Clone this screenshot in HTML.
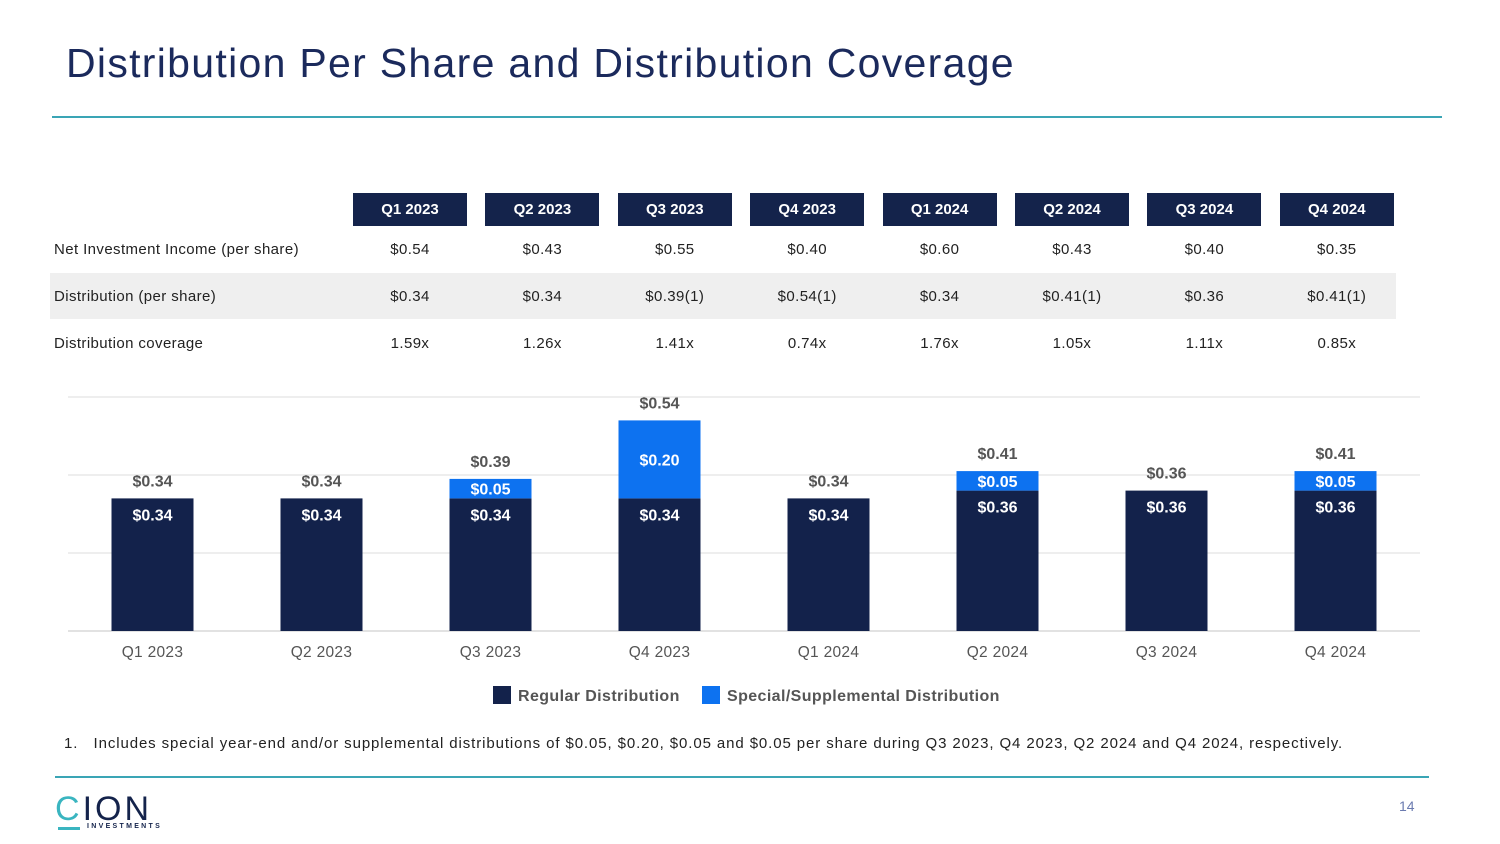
<!DOCTYPE html>
<html><head><meta charset="utf-8"><style>
body{margin:0;width:1500px;height:844px;background:#fff;font-family:"Liberation Sans",sans-serif;position:relative;overflow:hidden}
.a{position:absolute}
.title{left:66px;top:40px;font-size:41px;letter-spacing:1.3px;color:#1b2a5c;white-space:nowrap}
.hd{top:193px;width:114px;height:33px;background:#14234b;color:#fff;font-weight:bold;font-size:15px;line-height:33px;text-align:center}
.rl{left:54px;font-size:15px;color:#222;letter-spacing:0.4px}
.c{width:114px;text-align:center;font-size:15px;color:#222;letter-spacing:0.4px}
</style></head><body>
<div class="a title">Distribution Per Share and Distribution Coverage</div>
<div class="a" style="left:52px;top:116px;width:1390px;height:1.5px;background:#3aa5b5"></div>
<div class="a" style="left:50px;top:273px;width:1346px;height:46px;background:#efefef"></div>
<div id="tbl"></div>
<svg class="a" style="left:0;top:0" width="1500" height="844" id="chart"></svg>
<div class="a" style="left:64px;top:735px;font-size:15px;letter-spacing:0.9px;color:#222;white-space:nowrap">1.&nbsp;&nbsp;&nbsp;Includes special year-end and/or supplemental distributions of $0.05, $0.20, $0.05 and $0.05 per share during Q3 2023, Q4 2023, Q2 2024 and Q4 2024, respectively.</div>
<div class="a" style="left:55px;top:776px;width:1374px;height:1.5px;background:#3aa5b5"></div>
<div class="a" style="left:55px;top:790px;font-size:34px;color:#14234b;letter-spacing:3px;font-weight:300"><span style="color:#3ab5c0">C</span>ION</div>
<div class="a" style="left:58px;top:827px;width:22px;height:3px;background:#3ab5c0"></div>
<div class="a" style="left:87px;top:823px;font-size:7px;font-weight:bold;letter-spacing:2.3px;color:#14234b">INVESTMENTS</div>
<div class="a" style="left:1399px;top:798px;font-size:14px;color:#6b7bb0">14</div>
<script>
const categories=["Q1 2023","Q2 2023","Q3 2023","Q4 2023","Q1 2024","Q2 2024","Q3 2024","Q4 2024"];
const nii=["$0.54","$0.43","$0.55","$0.40","$0.60","$0.43","$0.40","$0.35"];
const distLabels=["$0.34","$0.34","$0.39(1)","$0.54(1)","$0.34","$0.41(1)","$0.36","$0.41(1)"];
const coverage=["1.59x","1.26x","1.41x","0.74x","1.76x","1.05x","1.11x","0.85x"];
const regular=[0.34,0.34,0.34,0.34,0.34,0.36,0.36,0.36];
const special=[0,0,0.05,0.20,0,0.05,0,0.05];
const gridTicks=[0,0.2,0.4,0.6];

const tbl=document.getElementById('tbl');
const rows=[["Net Investment Income (per share)",nii,248],["Distribution (per share)",distLabels,295],["Distribution coverage",coverage,342]];
categories.forEach((c,i)=>{const x=353+i*132.4;
 const h=document.createElement('div');h.className='a hd';h.style.left=x+'px';h.textContent=c;
 
 tbl.appendChild(h);
 rows.forEach((r,k)=>{const d=document.createElement('div');d.className='a c';d.style.left=x+'px';d.style.top=(r[2]-7)+'px';d.textContent=r[1][i];
 
 tbl.appendChild(d);});
});
rows.forEach(r=>{const d=document.createElement('div');d.className='a rl';d.style.top=(r[2]-7)+'px';d.textContent=r[0];
 
 tbl.appendChild(d);});

const svg=document.getElementById('chart'),NS='http://www.w3.org/2000/svg';
const L=68,R=1420,Y0=631,Y1=397,VMAX=0.6;
const y=v=>Y0-(v/VMAX)*(Y0-Y1);
const band=(R-L)/categories.length;const xc=i=>L+band*(i+0.5);const BW=82;
function el(t,a,txt){const e=document.createElementNS(NS,t);for(const k in a)e.setAttribute(k,a[k]);if(txt!=null)e.textContent=txt;svg.appendChild(e);return e;}
gridTicks.forEach(t=>{const g=el('line',{x1:L,x2:R,y1:y(t),y2:y(t),stroke:t===0?'#d9d9d9':'#e8e8e8','stroke-width':1.5});
 
 });
const f='font-family:Liberation Sans,sans-serif;font-size:16px;font-weight:bold';
categories.forEach((c,i)=>{const x=xc(i);
 const b=el('rect',{x:x-BW/2,y:y(regular[i]),width:BW,height:Y0-y(regular[i]),fill:'#13224b'});
 
 
 const t1=el('text',{x:x,y:y(regular[i])+22,'text-anchor':'middle',fill:'#fff',style:f},'$'+regular[i].toFixed(2));
 
 
 const tot=regular[i]+special[i];
 if(special[i]>0){const s=el('rect',{x:x-BW/2,y:y(tot),width:BW,height:y(regular[i])-y(tot),fill:'#0d72f0'});
  
  
  const t2=el('text',{x:x,y:(y(tot)+y(regular[i]))/2+6,'text-anchor':'middle',fill:'#fff',style:f},'$'+special[i].toFixed(2));
  
  }
 const t3=el('text',{x:x,y:y(tot)-12,'text-anchor':'middle',fill:'#555',style:f},'$'+tot.toFixed(2));
 
 
 const t4=el('text',{x:x,y:657,'text-anchor':'middle',fill:'#555',style:'font-family:Liberation Sans,sans-serif;font-size:15.5px;letter-spacing:0.3px'},c);
 
 
});
[[493,'#13224b','Regular Distribution'],[702,'#0d72f0','Special/Supplemental Distribution']].forEach(l=>{
 const r=el('rect',{x:l[0],y:686,width:18,height:18,fill:l[1]});
 
 
 const t=el('text',{x:l[0]+25,y:701,fill:'#555',style:'font-family:Liberation Sans,sans-serif;font-size:16px;font-weight:bold;letter-spacing:0.4px'},l[2]);
 
 });
</script>
</body></html>
